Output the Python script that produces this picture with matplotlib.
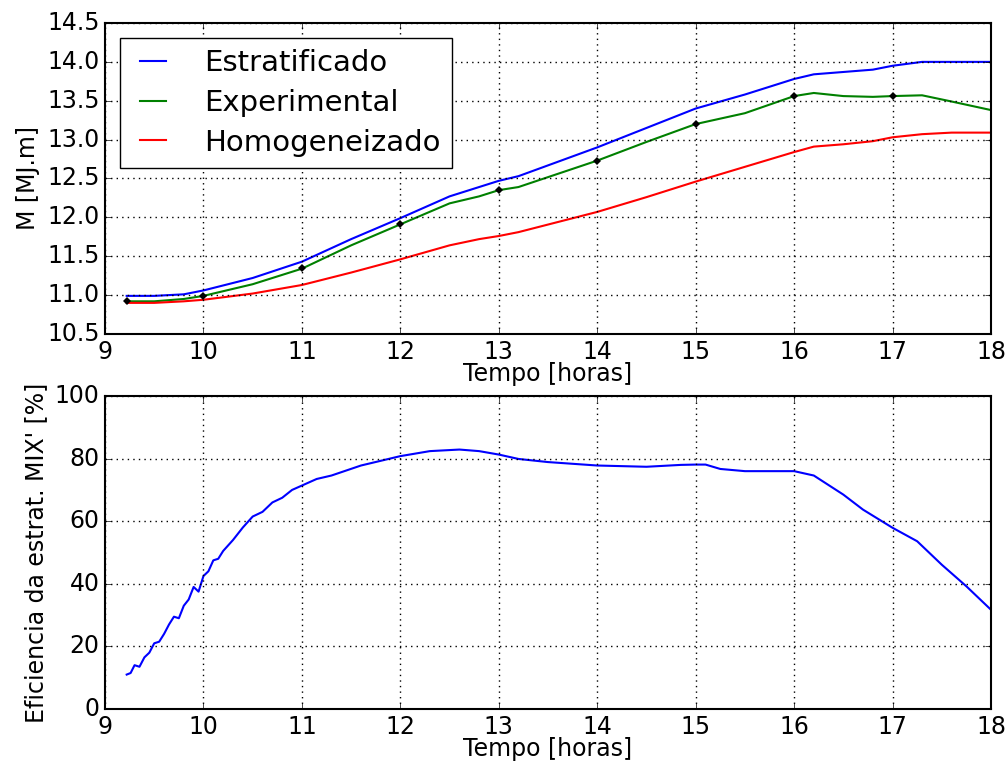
import matplotlib
matplotlib.use('Agg')
import matplotlib.pyplot as plt

# tempo [horas] e valores
tempo = [9.22, 9.5, 9.8, 10, 10.5, 11, 11.5, 12, 12.5, 12.8, 13, 13.2, 14, 14.5,
         15, 15.5, 16, 16.2, 16.5, 16.8, 17, 17.3, 17.6, 18]
estratificado = [10.99, 10.99, 11.01, 11.06, 11.22, 11.43, 11.72, 11.99, 12.27, 12.39,
                 12.47, 12.53, 12.90, 13.15, 13.40, 13.58, 13.78, 13.84, 13.87, 13.90,
                 13.95, 14.00, 14.00, 14.00]
experimental = [10.92, 10.92, 10.95, 10.99, 11.14, 11.34, 11.64, 11.91, 12.18, 12.27,
                12.35, 12.39, 12.73, 12.97, 13.20, 13.34, 13.56, 13.60, 13.56, 13.55,
                13.56, 13.57, 13.49, 13.38]
homogeneizado = [10.90, 10.90, 10.92, 10.94, 11.02, 11.13, 11.29, 11.46, 11.64, 11.72,
                 11.76, 11.81, 12.07, 12.26, 12.46, 12.65, 12.84, 12.91, 12.94, 12.98,
                 13.03, 13.07, 13.09, 13.09]

# pontos medidos (marcadores)
horas_med = [9.22, 10, 11, 12, 13, 14, 15, 16, 17]
exp_med = [10.92, 10.99, 11.35, 11.91, 12.35, 12.73, 13.20, 13.56, 13.56]

# eficiencia
tempo_ef = [9.22, 9.26, 9.3, 9.35, 9.4, 9.45, 9.5, 9.55, 9.6, 9.65, 9.7, 9.75, 9.8,
            9.85, 9.9, 9.95, 10, 10.05, 10.1, 10.15, 10.2, 10.3, 10.4, 10.5, 10.6,
            10.7, 10.8, 10.9, 11, 11.15, 11.3, 11.6, 12, 12.3, 12.6, 12.8, 13, 13.2,
            13.5, 14, 14.5, 14.85, 15, 15.1, 15.25, 15.5, 16, 16.2, 16.5, 16.7, 17,
            17.25, 17.5, 17.75, 18]
eficiencia = [11, 11.5, 14, 13.5, 16.5, 18, 21, 21.5, 24, 27, 29.5, 29, 33, 35, 39,
              37.5, 42.5, 44, 47.5, 48, 50.5, 54, 58, 61.5, 63, 66, 67.5, 70, 71.4,
              73.5, 74.6, 77.8, 80.8, 82.4, 82.9, 82.4, 81.3, 79.9, 78.9, 77.8, 77.4,
              78.0, 78.1, 78.1, 76.7, 76, 76, 74.6, 68.5, 63.7, 57.9, 53.6, 46.1,
              39.2, 31.7]

plt.style.use('classic')
plt.rcParams['font.family'] = ['DejaVu Sans']

fig = plt.figure(figsize=(10.06, 7.72), dpi=100, facecolor='white')
ax1 = fig.add_axes([0.1044, 0.5674, 0.8807, 0.4028])
ax2 = fig.add_axes([0.1044, 0.0816, 0.8807, 0.4054])

ax1.plot(tempo, estratificado, 'b-', lw=1.5, label='Estratificado')
ax1.plot(tempo, experimental, 'g-', lw=1.5, label='Experimental')
ax1.plot(tempo, homogeneizado, 'r-', lw=1.5, label='Homogeneizado')
ax1.plot(horas_med, exp_med, 'kD', ms=4, mew=0)
ax1.set_xlim(9, 18)
ax1.set_ylim(10.5, 14.5)
ax1.set_xticks(range(9, 19))
ax1.set_yticks([10.5, 11.0, 11.5, 12.0, 12.5, 13.0, 13.5, 14.0, 14.5])
ax1.set_xlabel('Tempo [horas]', fontsize=17, labelpad=-1)
ax1.set_ylabel('M [MJ.m]', fontsize=17)
ax1.grid(True, color='k', linestyle=':', lw=1)
ax1.tick_params(labelsize=17)
ax1.legend(loc='upper left', fontsize=21, handlelength=1.5, handletextpad=1.0,
           labelspacing=0.4, borderaxespad=0.5, fancybox=False, frameon=True)

ax2.plot(tempo_ef, eficiencia, 'b-', lw=1.5)
ax2.set_xlim(9, 18)
ax2.set_ylim(0, 100)
ax2.set_xticks(range(9, 19))
ax2.set_xlabel('Tempo [horas]', fontsize=17, labelpad=-1)
ax2.set_ylabel("Eficiencia da estrat. MIX' [%]", fontsize=17)
ax2.grid(True, color='k', linestyle=':', lw=1)
ax2.tick_params(labelsize=17)

for ax in (ax1, ax2):
    for s in ax.spines.values():
        s.set_linewidth(1.5)

fig.savefig('out.png', dpi=100, facecolor='white')
